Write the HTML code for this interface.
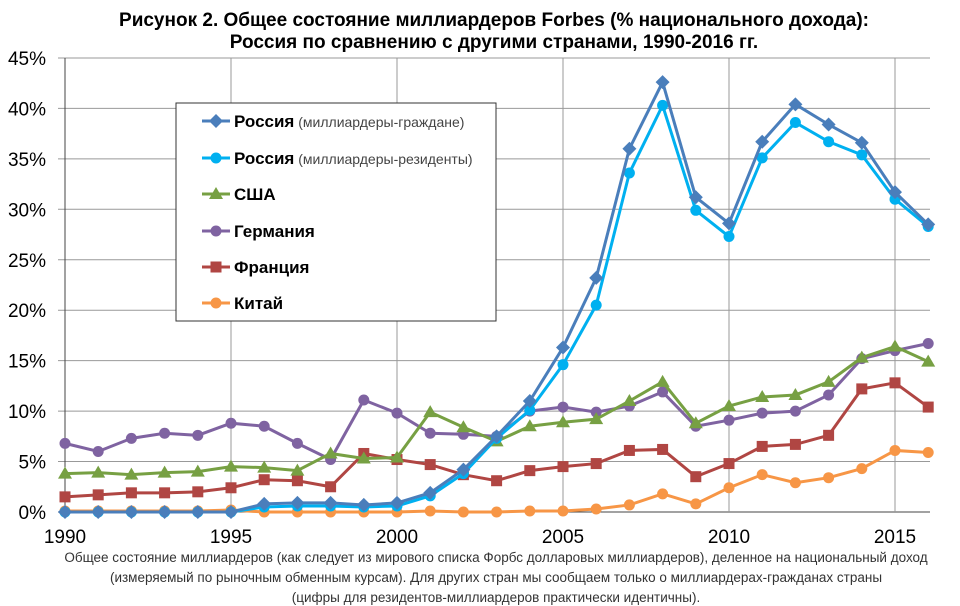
<!DOCTYPE html>
<html><head><meta charset="utf-8"><style>
body{margin:0;background:#fff;}
svg{display:block;font-family:"Liberation Sans",sans-serif;}
</style></head><body>
<svg id="s" width="960" height="606" xmlns="http://www.w3.org/2000/svg">
<text x="494" y="26" text-anchor="middle" font-size="19" font-weight="bold">Рисунок 2. Общее состояние миллиардеров Forbes (% национального дохода):</text>
<text x="494" y="48" text-anchor="middle" font-size="19" font-weight="bold">Россия по сравнению с другими странами, 1990-2016 гг.</text>
<g id="grid"></g>
<g id="series"></g>
<rect x="176" y="103" width="320" height="218" fill="#fff" stroke="#333" stroke-width="1"/>
<g id="leg" font-size="17"></g>
<text x="496" y="562" text-anchor="middle" font-size="13.5" fill="#333">Общее состояние миллиардеров (как следует из мирового списка Форбс долларовых миллиардеров), деленное на национальный доход</text>
<text x="496" y="582" text-anchor="middle" font-size="13.5" fill="#333">(измеряемый по рыночным обменным курсам). Для других стран мы сообщаем только о миллиардерах-гражданах страны</text>
<text x="496" y="602" text-anchor="middle" font-size="13.5" fill="#333">(цифры для резидентов-миллиардеров практически идентичны).</text>
</svg>
<script>
var NS="http://www.w3.org/2000/svg";
function X(y){return 65+(y-1990)*33.2;}
function Y(v){return 512-v*10.09;}
function el(t,a,p){var e=document.createElementNS(NS,t);for(var k in a)e.setAttribute(k,a[k]);p.appendChild(e);return e;}
var g=document.getElementById('grid');
for(var i=0;i<=9;i++){var y=Y(i*5);el('line',{x1:58,x2:930,y1:y,y2:y,stroke:i==0?'#444':'#999','stroke-width':1},g);
var t=el('text',{x:46,y:y+7,'text-anchor':'end','font-size':19},g);t.textContent=(i*5)+'%';}
for(var yr=1995;yr<=2015;yr+=5){el('line',{x1:X(yr),x2:X(yr),y1:Y(45),y2:Y(0),stroke:'#999'},g);}
el('line',{x1:65,x2:65,y1:Y(45),y2:Y(0),stroke:'#444'},g);
[1990,1995,2000,2005,2010,2015].forEach(function(yr){var t=el('text',{x:X(yr),y:543,'text-anchor':'middle','font-size':19},g);t.textContent=yr;});
var D=[
["#4a7ebb","d",[0,0,0,0,0,0,0.8,0.9,0.9,0.7,0.9,1.9,4.2,7.5,11,16.3,23.2,36,42.6,31.2,28.6,36.7,40.4,38.4,36.6,31.7,28.5]],
["#00b0f0","c",[0,0,0,0,0,0,0.5,0.6,0.6,0.5,0.6,1.6,3.8,7.3,10.1,14.6,20.5,33.6,40.3,29.9,27.3,35.1,38.6,36.7,35.4,31,28.3]],
["#77a043","t",[3.8,3.9,3.7,3.9,4.0,4.5,4.4,4.1,5.8,5.3,5.4,9.9,8.4,7.0,8.5,8.9,9.2,11,12.9,8.8,10.5,11.4,11.6,12.9,15.3,16.4,14.9]],
["#7f63a1","c",[6.8,6.0,7.3,7.8,7.6,8.8,8.5,6.8,5.2,11.1,9.8,7.8,7.7,7.5,10,10.4,9.9,10.5,11.9,8.5,9.1,9.8,10,11.6,15.2,16,16.7]],
["#b04643","s",[1.5,1.7,1.9,1.9,2.0,2.4,3.2,3.1,2.5,5.8,5.2,4.7,3.7,3.1,4.1,4.5,4.8,6.1,6.2,3.5,4.8,6.5,6.7,7.6,12.2,12.8,10.4]],
["#f79646","c",[0.1,0.1,0.1,0.1,0.1,0.2,0,0,0,0,0,0.1,0,0,0.1,0.1,0.3,0.7,1.8,0.8,2.4,3.7,2.9,3.4,4.3,6.1,5.9]]];
function mk(type,x,y,c,p){
 if(type=='d')el('polygon',{points:(x)+','+(y-7)+' '+(x+7)+','+y+' '+x+','+(y+7)+' '+(x-7)+','+y,fill:c},p);
 else if(type=='c')el('circle',{cx:x,cy:y,r:5.5,fill:c},p);
 else if(type=='t')el('polygon',{points:x+','+(y-7)+' '+(x+7)+','+(y+5)+' '+(x-7)+','+(y+5),fill:c},p);
 else el('rect',{x:x-5.5,y:y-5.5,width:11,height:11,fill:c},p);}
var s=document.getElementById('series');
D.slice().reverse().forEach(function(d){var pts=d[2].map(function(v,i){return X(1990+i)+','+Y(v);}).join(' ');
el('polyline',{points:pts,fill:'none',stroke:d[0],'stroke-width':3},s);
d[2].forEach(function(v,i){mk(d[1],X(1990+i),Y(v),d[0],s);});});
var L=document.getElementById('leg');
var labs=[["Россия"," (миллиардеры-граждане)"],["Россия"," (миллиардеры-резиденты)"],["США",""],["Германия",""],["Франция",""],["Китай",""]];
var ly=[121,158,194,231,267,303];
labs.forEach(function(l,i){var y=ly[i];el('line',{x1:202,x2:230,y1:y,y2:y,stroke:D[i][0],'stroke-width':3},L);mk(D[i][1],216,y,D[i][0],L);
var t=el('text',{x:234,y:y+6,'font-weight':'bold'},L);t.textContent=l[0];
if(l[1]){var s2=el('tspan',{'font-weight':'normal','font-size':14,fill:'#444'},t);s2.textContent=l[1];}});
</script>
</body></html>
